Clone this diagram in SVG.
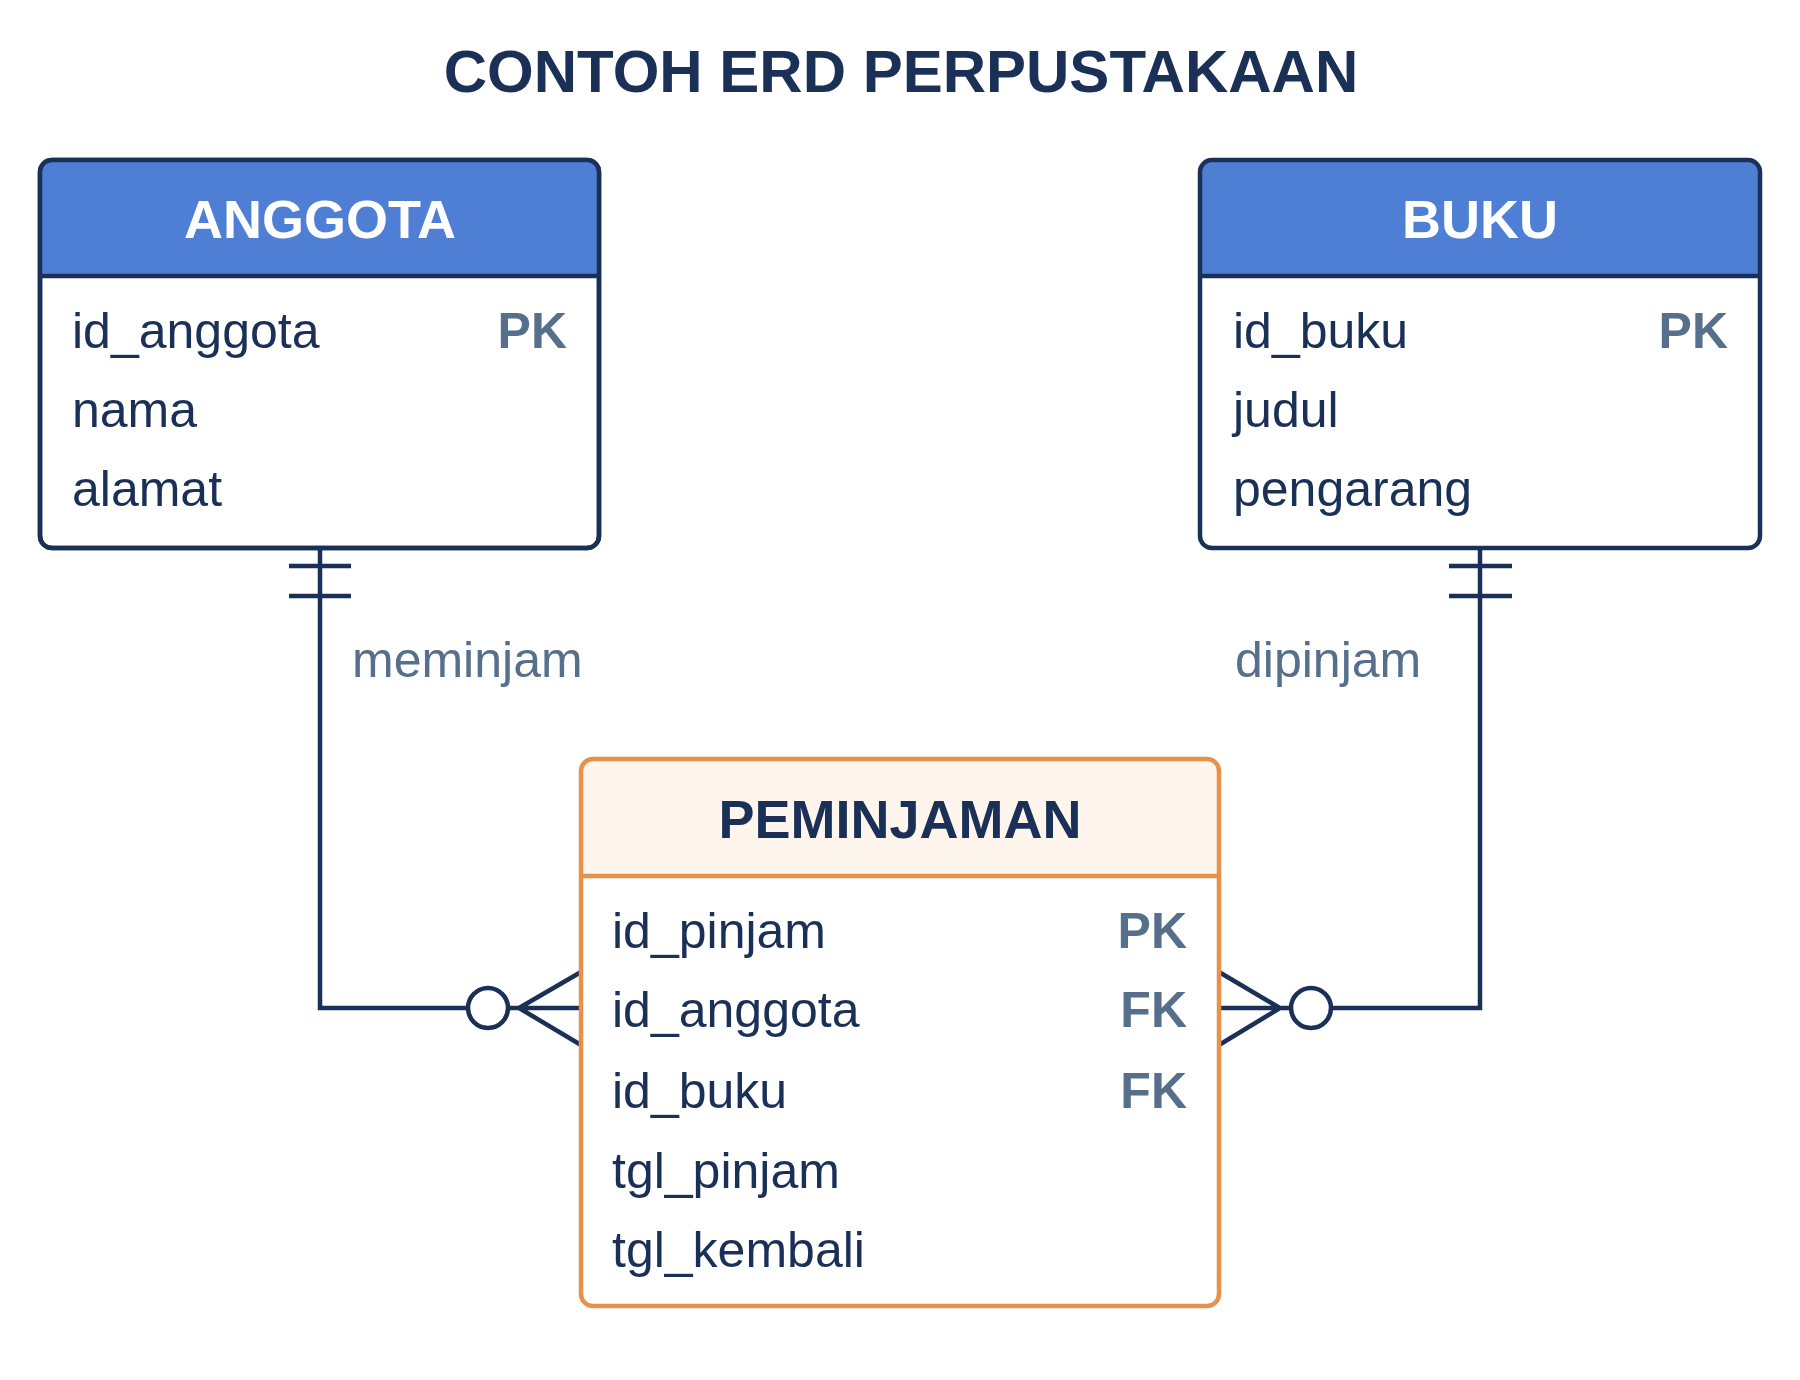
<svg xmlns="http://www.w3.org/2000/svg" width="1800" height="1380" viewBox="0 0 1800 1380">
<style>
text{font-family:"Liberation Sans",Arial,sans-serif}
.title{font-size:60px;font-weight:bold;fill:#1a3057}
.hdr{font-size:54px;font-weight:bold;fill:#fff}
.hdr2{font-size:54px;font-weight:bold;fill:#1a3057}
.attr{font-size:50px;fill:#1a3057}
.key{font-size:50px;font-weight:bold;fill:#56708c;text-anchor:end}
.lbl{font-size:50px;fill:#56708c}
.line{fill:none;stroke:#1a3057;stroke-width:4.5}
</style>
<rect width="1800" height="1380" fill="#fff"/>
<text class="title" x="901" y="92" text-anchor="middle">CONTOH ERD PERPUSTAKAAN</text>
<g id="connectors">
<path class="line" d="M320 548 V1008 H467"/>
<circle class="line" cx="488" cy="1008" r="20" fill="#fff"/>
<path class="line" d="M289 566 H351 M289 596 H351 M508 1008 H581 M519 1008 L581 972 M519 1008 L581 1045"/>
<path class="line" d="M1480 548 V1008 H1332"/>
<circle class="line" cx="1311" cy="1008" r="20" fill="#fff"/>
<path class="line" d="M1449 566 H1512 M1449 596 H1512 M1219 1008 H1291 M1219 972 L1280 1008 L1219 1045"/>
<text class="lbl" x="352" y="677">meminjam</text>
<text class="lbl" x="1235" y="677">dipinjam</text>
</g>
<g id="anggota">
<rect x="40" y="160" width="559" height="388" rx="12" fill="#fff" stroke="#1a3057" stroke-width="4.5"/>
<path d="M52 162 H587 Q597 162 597 172 V276 H42 V172 Q42 162 52 162 Z" fill="#4f7fd4"/>
<rect x="40" y="160" width="559" height="388" rx="12" fill="none" stroke="#1a3057" stroke-width="4.5"/>
<line x1="40" y1="276" x2="599" y2="276" stroke="#1a3057" stroke-width="4.5"/>
<text class="hdr" x="320" y="238" text-anchor="middle">ANGGOTA</text>
<text class="attr" x="72" y="348">id_anggota</text><text class="key" x="567" y="348">PK</text>
<text class="attr" x="72" y="427">nama</text>
<text class="attr" x="72" y="506">alamat</text>
</g>
<g id="buku">
<path d="M1212 162 H1748 Q1758 162 1758 172 V276 H1202 V172 Q1202 162 1212 162 Z" fill="#4f7fd4"/>
<rect x="1200" y="160" width="560" height="388" rx="12" fill="none" stroke="#1a3057" stroke-width="4.5"/>
<line x1="1200" y1="276" x2="1760" y2="276" stroke="#1a3057" stroke-width="4.5"/>
<text class="hdr" x="1480" y="238" text-anchor="middle">BUKU</text>
<text class="attr" x="1233" y="348">id_buku</text><text class="key" x="1728" y="348">PK</text>
<text class="attr" x="1233" y="427">judul</text>
<text class="attr" x="1233" y="506">pengarang</text>
</g>
<g id="peminjaman">
<rect x="581" y="759" width="638" height="547" rx="12" fill="#fff"/>
<path d="M593 761 H1207 Q1217 761 1217 771 V876 H583 V771 Q583 761 593 761 Z" fill="#fef5ec"/>
<rect x="581" y="759" width="638" height="547" rx="12" fill="none" stroke="#e8914a" stroke-width="4.5"/>
<line x1="581" y1="876" x2="1219" y2="876" stroke="#e8914a" stroke-width="4.5"/>
<text class="hdr2" x="900" y="838" text-anchor="middle">PEMINJAMAN</text>
<text class="attr" x="612" y="948">id_pinjam</text><text class="key" x="1187" y="948">PK</text>
<text class="attr" x="612" y="1027">id_anggota</text><text class="key" x="1187" y="1027">FK</text>
<text class="attr" x="612" y="1108">id_buku</text><text class="key" x="1187" y="1108">FK</text>
<text class="attr" x="612" y="1188">tgl_pinjam</text>
<text class="attr" x="612" y="1267">tgl_kembali</text>
</g>
</svg>
